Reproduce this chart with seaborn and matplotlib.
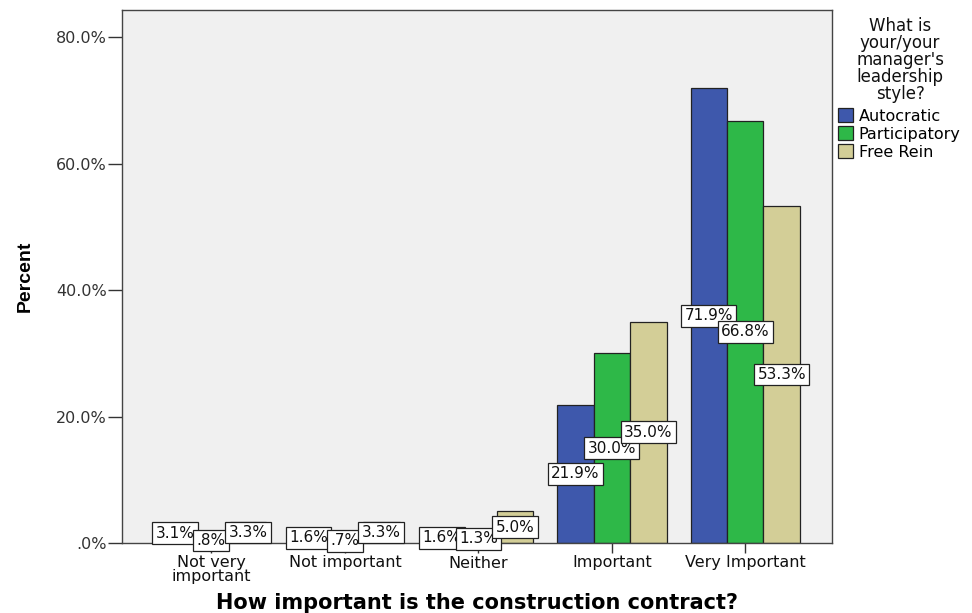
import matplotlib
matplotlib.use('Agg')
import matplotlib.pyplot as plt
from matplotlib.ticker import FuncFormatter
from matplotlib.patches import Patch
import numpy as np
import pandas as pd
import seaborn as sns

# data
categories = ['Not very\nimportant', 'Not important', 'Neither', 'Important', 'Very Important']
styles = ['Autocratic', 'Participatory', 'Free Rein']
autocratic = [3.1, 1.6, 1.6, 21.9, 71.9]
participatory = [0.8, 0.7, 1.3, 30.0, 66.8]
free_rein = [3.3, 3.3, 5.0, 35.0, 53.3]
colors = ['#3E58AC', '#2EB848', '#D3CE97']

df = pd.DataFrame({
    'importance': categories * 3,
    'style': np.repeat(styles, len(categories)),
    'percent': autocratic + participatory + free_rein,
})


def pct(v):
    s = '{:.1f}%'.format(v)
    return s[1:] if s.startswith('0') else s


plt.rcParams['font.family'] = ['DejaVu Sans']
fig = plt.figure(figsize=(9.72, 6.13), dpi=100)
ax = fig.add_axes([122 / 972, 70 / 613, 710 / 972, 533 / 613])
ax.set_facecolor('#F0F0F0')

sns.barplot(data=df, x='importance', y='percent', hue='style',
            order=categories, hue_order=styles, palette=colors,
            saturation=1, width=0.82, edgecolor='#222222', linewidth=0.9,
            legend=False, ax=ax)

for cont in ax.containers:
    vals = [b.get_height() for b in cont]
    ax.bar_label(cont, labels=[pct(v) for v in vals], label_type='center',
                 fontsize=11, color='#111111',
                 bbox=dict(boxstyle='square,pad=0.22', fc='white', ec='#222222', lw=0.9))

ax.set_xlim(-0.67, 4.65)
ax.set_ylim(0, 84.3)
ax.set_yticks([0, 20, 40, 60, 80])
ax.yaxis.set_major_formatter(FuncFormatter(lambda v, p: pct(v)))
ax.tick_params(axis='both', labelsize=11.5, colors='#333333', width=1)
ax.tick_params(axis='y', length=10, pad=1)
ax.tick_params(axis='x', length=7, pad=2, labelcolor='#111111')
for lab in ax.get_xticklabels():
    lab.set_linespacing(0.85)
for sp in ax.spines.values():
    sp.set_color('#444444')
    sp.set_linewidth(1)

ax.set_ylabel('Percent', fontsize=14, fontweight='bold', stretch='condensed',
              family=['Liberation Sans Narrow', 'Liberation Sans'], labelpad=16)
ax.set_xlabel('How important is the construction contract?', fontsize=15,
              fontweight='bold', family='DejaVu Sans', labelpad=7)

# legend title drawn as centred text above the entries
fig.text(900 / 972, 1 - 17 / 613, "What is\nyour/your\nmanager's\nleadership\nstyle?",
         ha='center', va='top', ma='center', fontsize=12, linespacing=0.93, color='#111111')
handles = [Patch(facecolor=c, edgecolor='#222222', lw=0.9) for c in colors]
leg = fig.legend(handles, styles, loc='upper left',
                 bbox_to_anchor=(838 / 972, 1 - 108 / 613),
                 frameon=False, fontsize=11.5,
                 handlelength=0.95, handleheight=1.0, handletextpad=0.35,
                 labelspacing=0.15, borderaxespad=0, borderpad=0)

fig.savefig('out.png', dpi=100)
